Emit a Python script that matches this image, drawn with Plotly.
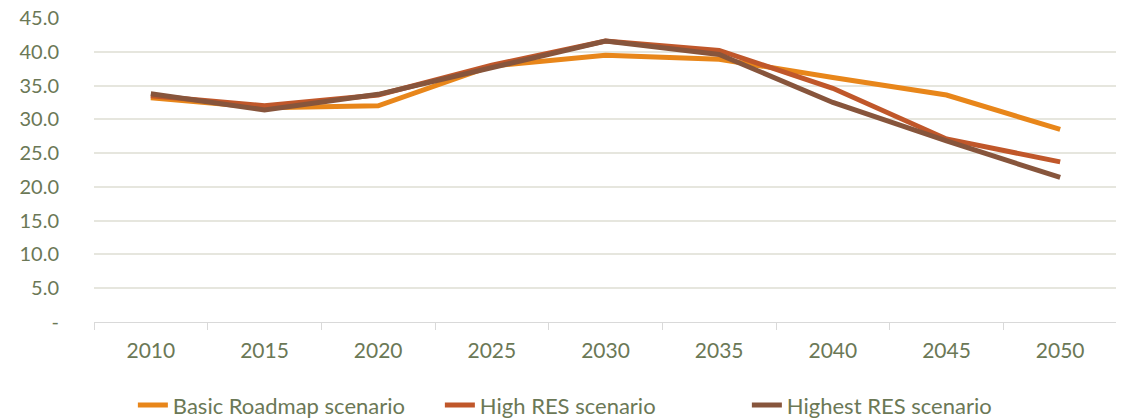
import plotly.graph_objects as go

years = ["2010", "2015", "2020", "2025", "2030", "2035", "2040", "2045", "2050"]
basic_roadmap = [33.2, 31.7, 32.0, 37.9, 39.5, 38.9, 36.2, 33.6, 28.5]
high_res = [33.5, 32.0, 33.6, 38.0, 41.6, 40.2, 34.6, 27.1, 23.7]
highest_res = [33.8, 31.4, 33.7, 37.6, 41.6, 39.6, 32.5, 26.8, 21.4]

y_ticks = [0, 5, 10, 15, 20, 25, 30, 35, 40, 45]
y_labels = ["-"] + [f"{v:.1f}" for v in y_ticks[1:]]

text_color = "#6B7856"
font_family = "Lato, 'Open Sans', sans-serif"

series = [
    ("Basic Roadmap scenario", basic_roadmap, "#E8861A"),
    ("High RES scenario", high_res, "#C0572A"),
    ("Highest RES scenario", highest_res, "#87553C"),
]

fig = go.Figure()
for name, values, color in series:
    fig.add_trace(go.Scatter(
        x=years, y=values, name=name, mode="lines",
        line=dict(color=color, width=5),
    ))

# page body adds an 8px margin, so the figure is sized 8px smaller
fig.update_layout(
    width=1116, height=410,
    margin=dict(l=86, r=7, t=10, b=96, autoexpand=False),
    paper_bgcolor="white", plot_bgcolor="white",
    font=dict(family=font_family, color=text_color, size=21),
    legend=dict(
        orientation="h", x=0.038, xanchor="left", y=-0.205, yanchor="top",
        font=dict(size=22, color=text_color),
        entrywidth=262, entrywidthmode="pixels",
    ),
)
fig.update_xaxes(
    type="category", range=[-0.5, len(years) - 0.5], automargin=False,
    tickson="boundaries", ticks="outside", ticklen=7,
    tickcolor="#D9D9D9", showline=True, linecolor="#D9D9D9", linewidth=1,
    showgrid=False, tickfont=dict(size=21, color=text_color),
    ticklabelstandoff=10, ticklabeloverflow="allow",
)
fig.update_yaxes(
    range=[0, 45], tickvals=y_ticks, ticktext=y_labels, automargin=False,
    showgrid=True, gridcolor="#E6E6DE", gridwidth=1.5, zeroline=False,
    ticks="", tickfont=dict(size=20, color=text_color),
    ticklabelstandoff=34, ticklabeloverflow="allow",
)

fig.write_html("out.html")
